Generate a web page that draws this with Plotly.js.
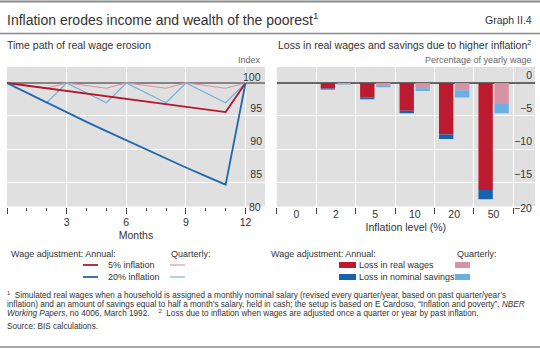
<!DOCTYPE html>
<html><head><meta charset="utf-8">
<script src="https://cdn.plot.ly/plotly-3.0.1.min.js"></script>
<style>html,body{margin:0;padding:0;background:#fff}#c{width:540px;height:349px}</style>
</head><body><div id="c"></div>
<script>
// Left panel: time path of real wages (index)
const months = [0,1,2,3,4,5,6,7,8,9,10,11,12];
const annual5  = [100,99.6,99.2,98.8,98.4,98.0,97.6,97.2,96.8,96.4,96.0,95.6,100];
const annual20 = [100,98.5,97.0,95.5,94.1,92.7,91.3,89.9,88.6,87.2,85.9,84.6,100];
const quarterly5  = [100,99.6,99.2,100,99.6,99.2,100,99.6,99.2,100,99.6,99.2,100];
const quarterly20 = [100,98.5,97.0,100,98.5,97.0,100,98.5,97.0,100,98.5,97.0,100];
const monthTickVals = [0,3,6,9,12];
const monthTickText = ['','3','6','9','12'];
const indexTickVals = [85,90,95];

// Right panel: losses, percentage of yearly wage
const inflationLevels = ['0','2','5','10','20','50'];
const annualRealWageLoss    = [0,-0.85,-2.2,-4.2,-7.8,-16.2];
const annualSavingsLoss     = [0,-0.15,-0.25,-0.4,-0.7,-1.4];
const quarterlyRealWageLoss = [0,-0.2,-0.45,-0.8,-1.1,-3.2];
const quarterlySavingsLoss  = [0,-0.05,-0.2,-0.4,-1.1,-1.4];
const lossTickVals = [-15,-10,-5,0];
const lossTickText = ['−15','−10','−5','0'];

const annualBase = annualRealWageLoss;
const quarterlyBase = quarterlyRealWageLoss;

const RED='#bc1a2e', BLUE='#1663ad', PINK='#d892a5', LBLUE='#6cb0e3';
const LRED='#b5172d', LDBLUE='#1f68ad', LPINK='#dc97a6', LLBLUE='#74b1dd';
const FONT='Liberation Sans, Arial, sans-serif';
const TXT='#333333';

const W=540,H=349;
const px=x=>x/W, py=y=>1-y/H;

const traces = [
 {x:months,y:quarterly5,type:'scatter',mode:'lines',line:{color:LPINK,width:1.2},xaxis:'x',yaxis:'y',hoverinfo:'skip'},
 {x:months,y:quarterly20,type:'scatter',mode:'lines',line:{color:LLBLUE,width:1.2},xaxis:'x',yaxis:'y',hoverinfo:'skip'},
 {x:months,y:annual5,type:'scatter',mode:'lines',line:{color:LRED,width:1.8},xaxis:'x',yaxis:'y',hoverinfo:'skip'},
 {x:months,y:annual20,type:'scatter',mode:'lines',line:{color:LDBLUE,width:1.8},xaxis:'x',yaxis:'y',hoverinfo:'skip'},
 {x:inflationLevels,y:annualRealWageLoss,type:'bar',marker:{color:RED,line:{width:0}},offsetgroup:'a',xaxis:'x2',yaxis:'y2',hoverinfo:'skip'},
 {x:inflationLevels,y:annualSavingsLoss,base:annualBase,type:'bar',marker:{color:BLUE,line:{width:0}},offsetgroup:'a',xaxis:'x2',yaxis:'y2',hoverinfo:'skip'},
 {x:inflationLevels,y:quarterlyRealWageLoss,type:'bar',marker:{color:PINK,line:{width:0}},offsetgroup:'q',xaxis:'x2',yaxis:'y2',hoverinfo:'skip'},
 {x:inflationLevels,y:quarterlySavingsLoss,base:quarterlyBase,type:'bar',marker:{color:LBLUE,line:{width:0}},offsetgroup:'q',xaxis:'x2',yaxis:'y2',hoverinfo:'skip'}
];

const BG='#e0e0e0';
const tickFont={family:FONT,size:10.5,color:TXT};
const layout = {
 width:W,height:H,margin:{l:0,r:0,t:0,b:0},
 paper_bgcolor:'#fff',plot_bgcolor:BG,showlegend:false,
 font:{family:FONT,color:TXT},
 barmode:'group',bargap:0.19,bargroupgap:0.1,
 xaxis:{domain:[px(7),px(265)],range:[0,12.98],tickvals:monthTickVals,ticktext:monthTickText,
   ticks:'outside',ticklen:6,tickwidth:1,tickcolor:'#444',showgrid:true,gridcolor:'#fff',gridwidth:1,
   zeroline:false,showline:false,tickfont:tickFont,
   minor:{dtick:1,tick0:0,ticks:'outside',ticklen:3,tickcolor:'#444',showgrid:false},
   title:{text:'Months',font:{family:FONT,size:10.5,color:TXT},standoff:4}},
 yaxis:{domain:[py(206.5),py(67)],range:[81.29,102.42],side:'right',anchor:'x',
   tickvals:indexTickVals,ticklabelposition:'inside top',ticks:'',showgrid:true,gridcolor:'#fff',gridwidth:1,
   zeroline:false,showline:false,tickfont:tickFont},
 xaxis2:{domain:[px(276.7),px(535)],range:[-0.5,6.05],type:'category',tickson:'boundaries',
   ticks:'outside',ticklen:6,tickwidth:1,tickcolor:'#444',showgrid:true,gridcolor:'#fff',gridwidth:1,
   zeroline:false,showline:false,tickfont:tickFont,anchor:'y2',
   title:{text:'Inflation level (%)',font:{family:FONT,size:10.5,color:TXT},standoff:4}},
 yaxis2:{domain:[py(206.5),py(67)],range:[-18.71,2.42],side:'right',anchor:'x2',
   tickvals:lossTickVals,ticktext:lossTickText,ticklabelposition:'inside top',ticks:'',
   showgrid:true,gridcolor:'#fff',gridwidth:1,zeroline:true,zerolinecolor:'#666',zerolinewidth:1.5,
   showline:false,tickfont:tickFont},
 shapes:[],annotations:[]
};

// 100 reference line on left (below traces)
layout.shapes.push({type:'line',xref:'x domain',yref:'y',x0:0,x1:1,y0:100,y1:100,line:{color:'#666',width:1.5},layer:'below'});
// rules
layout.shapes.push({type:'line',xref:'paper',yref:'paper',x0:0,x1:1,y0:py(1.5),y1:py(1.5),line:{color:'#8a8a8a',width:2}});
layout.shapes.push({type:'line',xref:'paper',yref:'paper',x0:0,x1:1,y0:py(33.5),y1:py(33.5),line:{color:'#8a8a8a',width:1.5}});
layout.shapes.push({type:'line',xref:'paper',yref:'paper',x0:0,x1:1,y0:py(347),y1:py(347),line:{color:'#8a8a8a',width:1.5}});

function ann(text,x,y,opts){
  layout.annotations.push(Object.assign({text:text,xref:'paper',yref:'paper',x:px(x),y:py(y),
    xanchor:'left',yanchor:'middle',showarrow:false,font:{family:FONT,size:10.5,color:TXT}},opts||{}));
}
ann('Inflation erodes income and wealth of the poorest<sup>1</sup>',5,19,{font:{family:FONT,size:14,color:TXT}});
ann('Graph II.4',534,20,{xanchor:'right',font:{family:FONT,size:10.5,color:TXT}});
ann('Time path of real wage erosion',5,45,{font:{family:FONT,size:10.5,color:TXT}});
ann('Loss in real wages and savings due to higher inflation<sup>2</sup>',276,45,{font:{family:FONT,size:10.5,color:TXT}});
ann('Index',263,60,{xanchor:'right',font:{family:FONT,size:9,color:'#666'}});
ann('Percentage of yearly wage',534,60,{xanchor:'right',font:{family:FONT,size:9,color:'#666'}});
ann('100',263,77,{xanchor:'right',font:tickFont});
ann('80',263,207,{xanchor:'right',font:tickFont});
ann('−20',534,208,{xanchor:'right',font:tickFont});

// left legend
const lf={family:FONT,size:9,color:TXT};
ann('Wage adjustment: Annual:',9,254,{font:lf});
ann('Quarterly:',169,254,{font:lf});
const legRows=[[265,'5% inflation',LRED,LPINK],[277,'20% inflation',LDBLUE,LLBLUE]];
legRows.forEach(r=>{
  layout.shapes.push({type:'line',xref:'paper',yref:'paper',x0:px(83),x1:px(98),y0:py(r[0]),y1:py(r[0]),line:{color:r[2],width:1.8}});
  layout.shapes.push({type:'line',xref:'paper',yref:'paper',x0:px(170),x1:px(185),y0:py(r[0]),y1:py(r[0]),line:{color:r[3],width:1.2}});
  ann(r[1],106,r[0],{font:lf});
});
// right legend
ann('Wage adjustment: Annual:',269,254,{font:lf});
ann('Quarterly:',455,254,{font:lf});
const legRows2=[[265,'Loss in real wages',RED,PINK],[277,'Loss in nominal savings',BLUE,LBLUE]];
legRows2.forEach(r=>{
  layout.shapes.push({type:'rect',xref:'paper',yref:'paper',x0:px(339),x1:px(356),y0:py(r[0]+3),y1:py(r[0]-3),fillcolor:r[2],line:{width:0}});
  layout.shapes.push({type:'rect',xref:'paper',yref:'paper',x0:px(455),x1:px(470),y0:py(r[0]+3),y1:py(r[0]-3),fillcolor:r[3],line:{width:0}});
  ann(r[1],357,r[0],{font:lf});
});

// footnotes
const fn={family:FONT,size:8.2,color:TXT};
ann('<sup>1</sup>  Simulated real wages when a household is assigned a monthly nominal salary (revised every quarter/year, based on past quarter/year’s',5,295,{font:fn});
ann('inflation) and an amount of savings equal to half a month’s salary, held in cash; the setup is based on E Cardoso, “Inflation and poverty”, <i>NBER</i>',5,304,{font:fn});
ann('<i>Working Papers</i>, no 4006, March 1992.    <sup>2</sup>  Loss due to inflation when wages are adjusted once a quarter or year by past inflation.',5,313,{font:fn});
ann('Source: BIS calculations.',5,326,{font:fn});

Plotly.newPlot('c',traces,layout,{staticPlot:true,displayModeBar:false});
</script></body></html>
